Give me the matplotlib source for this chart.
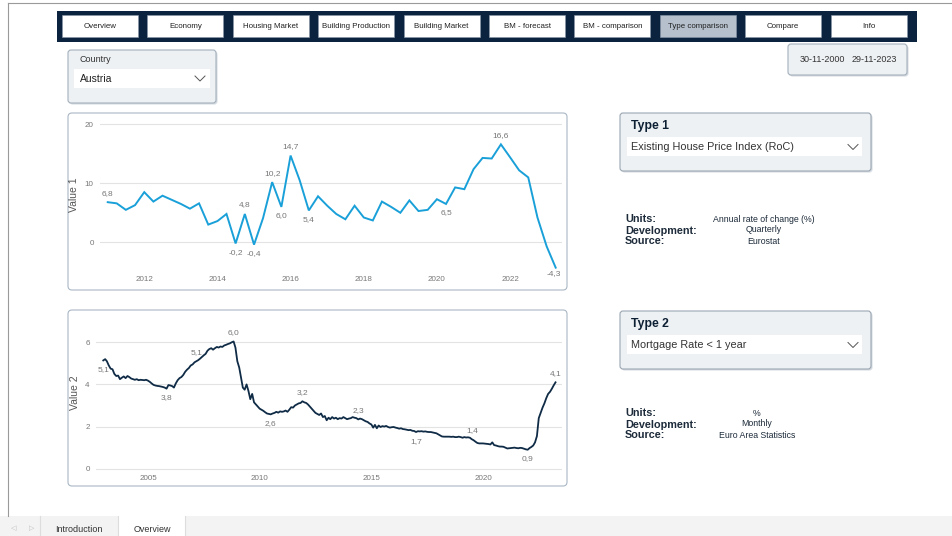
import matplotlib.pyplot as plt
import matplotlib.dates as mdates
from matplotlib.patches import FancyBboxPatch, Rectangle
import pandas as pd

plt.rcParams['font.family'] = ['Liberation Sans', 'DejaVu Sans']

W, H = 952, 536

# ---- data ----
nav_labels = ['Overview', 'Economy', 'Housing Market', 'Building Production', 'Building Market',
              'BM - forecast', 'BM - comparison', 'Type comparison', 'Compare', 'Info']
active_tab = 'Type comparison'
country = 'Austria'
date_from, date_to = '30-11-2000', '29-11-2023'

type1_name = 'Existing House Price Index (RoC)'
type1_meta = ['Annual rate of change (%)', 'Quarterly', 'Eurostat']
type1_values = [6.8, 6.6, 5.5, 6.3, 8.5, 6.9, 7.9, 7.2, 6.5, 5.7, 6.6, 3.0, 3.6, 4.8, -0.2, 4.8,
                -0.4, 4.1, 10.2, 6.0, 14.7, 10.5, 5.4, 7.8, 6.2, 4.8, 3.9, 6.2, 4.2, 3.7, 6.9, 6.0,
                5.0, 7.1, 5.3, 5.5, 7.3, 6.5, 9.3, 9.0, 12.4, 14.3, 14.2, 16.6, 14.4, 12.2, 11.0,
                4.2, -0.7, -4.3]
type1_dates = pd.date_range('2011-01-01', periods=len(type1_values), freq='QS')
type1_labels = {0: 1, 15: 1, 14: -1, 16: -1, 18: 1, 19: -1, 20: 1, 22: -1, 37: -1, 43: 1, 49: -1}

type2_name = 'Mortgage Rate < 1 year'
type2_meta = ['%', 'Monthly', 'Euro Area Statistics']
type2_values = [
    5.14, 5.2, 5.1, 4.9, 4.75, 4.72, 4.5, 4.4, 4.42, 4.25, 4.32, 4.38,   # 2003
    4.3, 4.4, 4.35, 4.28, 4.25, 4.22, 4.25, 4.2, 4.22, 4.21, 4.2, 4.22,   # 2004
    4.18, 4.12, 4.05, 3.98, 3.95, 3.93, 3.92, 3.9, 3.88, 3.85, 3.8, 3.97,  # 2005
    3.95, 3.92, 3.85, 4.05, 4.2, 4.3, 4.35, 4.45, 4.6, 4.7, 4.78, 4.9,    # 2006
    4.95, 5.05, 5.1, 5.15, 5.22, 5.3, 5.38, 5.45, 5.6, 5.68, 5.72, 5.65,  # 2007
    5.72, 5.78, 5.75, 5.8, 5.78, 5.85, 5.88, 5.92, 5.95, 6.0, 6.04, 5.75, # 2008
    5.1, 4.8, 4.35, 3.85, 3.75, 4.0, 3.7, 3.3, 3.55, 3.15, 3.05, 2.95,    # 2009
    2.85, 2.8, 2.75, 2.68, 2.62, 2.6, 2.58, 2.62, 2.65, 2.7, 2.66, 2.72,  # 2010
    2.7, 2.72, 2.76, 2.7, 2.8, 2.92, 2.9, 3.0, 3.05, 3.1, 3.12, 3.2,      # 2011
    3.15, 3.12, 3.05, 2.95, 2.85, 2.75, 2.65, 2.6, 2.55, 2.62, 2.45, 2.5, # 2012
    2.3, 2.42, 2.35, 2.45, 2.38, 2.42, 2.35, 2.4, 2.38, 2.45, 2.4, 2.35,  # 2013
    2.38, 2.4, 2.45, 2.42, 2.4, 2.34, 2.38, 2.35, 2.3, 2.25, 2.22, 2.15,  # 2014
    2.1, 1.95, 2.08, 1.92, 2.05, 1.98, 2.02, 2.0, 2.03, 1.98, 1.95, 1.97, # 2015
    1.98, 1.95, 1.93, 1.9, 1.92, 1.88, 1.87, 1.85, 1.83, 1.84, 1.8, 1.79, # 2016
    1.74, 1.78, 1.77, 1.78, 1.76, 1.77, 1.75, 1.74, 1.74, 1.72, 1.7, 1.68, # 2017
    1.63, 1.58, 1.53, 1.52, 1.52, 1.52, 1.52, 1.51, 1.52, 1.5, 1.5, 1.52, # 2018
    1.5, 1.47, 1.5, 1.48, 1.49, 1.47, 1.4, 1.35, 1.28, 1.22, 1.2, 1.2,    # 2019
    1.2, 1.19, 1.18, 1.17, 1.15, 1.25, 1.12, 1.1, 1.07, 1.05, 1.05, 1.04, # 2020
    1.0, 0.96, 0.97, 0.98, 0.99, 1.0, 0.98, 0.97, 0.99, 0.98, 0.95, 0.92, # 2021
    0.9, 0.98, 1.03, 1.1, 1.25, 1.55, 2.4, 2.65, 2.9, 3.1, 3.35, 3.55,    # 2022
    3.65, 3.8, 3.95, 4.1,                                                  # 2023
]
type2_dates = pd.date_range('2003-01-01', periods=len(type2_values), freq='MS')
type2_labels = {0: -1, 34: -1, 50: 1, 70: 1, 90: -1, 107: 1, 137: 1, 168: -1, 198: 1, 228: -1, 243: 1}

meta_keys = ['Units:', 'Development:', 'Source:']

NAVY = '#0c2340'


def fmt(v):
    return '{:.1f}'.format(v).replace('.', ',')


def px_axes(fig, x0, y0, x1, y1):
    return fig.add_axes([x0 / W, 1 - y1 / H, (x1 - x0) / W, (y1 - y0) / H])


def box(ax, x0, y0, x1, y1, fc, ec, r=3, lw=0.8, shadow=False):
    if shadow:
        ax.add_patch(FancyBboxPatch((x0 + 1.5, y0 + 1.5), x1 - x0, y1 - y0,
                                    boxstyle='round,pad=0,rounding_size=%s' % r,
                                    fc='#d5dbe1', ec='none', zorder=1))
    ax.add_patch(FancyBboxPatch((x0, y0), x1 - x0, y1 - y0,
                                boxstyle='round,pad=0,rounding_size=%s' % r,
                                fc=fc, ec=ec, lw=lw, zorder=2))


def chevron(ax, x, y):
    ax.plot([x - 5, x, x + 5], [y - 2.5, y + 2.5, y - 2.5], color='#555555', lw=0.7, zorder=4)


fig = plt.figure(figsize=(W / 100, H / 100), dpi=100)
fig.patch.set_facecolor('white')
bg = fig.add_axes([0, 0, 1, 1])
bg.set_xlim(0, W)
bg.set_ylim(H, 0)
bg.axis('off')

# page frame and bottom tab bar
bg.plot([8, 8], [3, 516], color='#9a9a9a', lw=0.8)
bg.plot([8, W], [3, 3], color='#9a9a9a', lw=0.8)
bg.add_patch(Rectangle((0, 516), W, 20, fc='#f3f3f3', ec='none'))
bg.add_patch(Rectangle((118, 516), 67, 20, fc='white', ec='none'))
for xv in [40, 118, 185]:
    bg.plot([xv, xv], [516, 536], color='#dddddd', lw=0.8)
bg.text(14, 528, '\u25c1', fontsize=5, color='#bbbbbb', ha='center', va='center', family='DejaVu Sans')
bg.text(32, 528, '\u25b7', fontsize=5, color='#bbbbbb', ha='center', va='center', family='DejaVu Sans')
bg.text(79, 529, 'Introduction', fontsize=6.5, color='#333333', ha='center', va='center')
bg.text(152, 529, 'Overview', fontsize=6.5, color='#333333', ha='center', va='center')

# navigation bar
bg.add_patch(Rectangle((57, 11), 860, 31, fc=NAVY, ec='none'))
for i, lab in enumerate(nav_labels):
    x0 = 62 + i * 85.4
    fc = '#b5c0cc' if lab == active_tab else 'white'
    bg.add_patch(Rectangle((x0, 15), 76, 22, fc=fc, ec='#8a98a8', lw=0.4, zorder=3))
    bg.text(x0 + 38, 26.5, lab, fontsize=5.7, color='#222222', ha='center', va='center', zorder=4)

# country slicer
box(bg, 68, 50, 216, 103, '#eef1f4', '#a3afbb', shadow=True)
bg.text(79, 60, 'Country', fontsize=6.5, color='#333333', va='center')
bg.add_patch(Rectangle((74, 69), 136, 19, fc='white', ec='none', zorder=3))
bg.text(80, 78.5, country, fontsize=7.5, color='#222222', va='center', zorder=4)
chevron(bg, 200, 78.5)

# date range
box(bg, 788, 44, 907, 75, '#eef1f4', '#a3afbb', shadow=True)
bg.text(822, 60, date_from, fontsize=6.5, color='#333333', ha='center', va='center', zorder=4)
bg.text(874, 60, date_to, fontsize=6.5, color='#333333', ha='center', va='center', zorder=4)

# chart frames
box(bg, 68, 113, 567, 290, 'white', '#a9b7c5', r=4)
box(bg, 68, 310, 567, 486, 'white', '#a9b7c5', r=4)

# type selectors and meta blocks
for y0, name, title, meta in [(113, type1_name, 'Type 1', type1_meta),
                              (311, type2_name, 'Type 2', type2_meta)]:
    box(bg, 620, y0, 871, y0 + 58, '#eef1f4', '#9aa6b2', shadow=True)
    bg.text(631, y0 + 13.5, title, fontsize=8.8, fontweight='bold', color='#0d1f33', va='center', zorder=4)
    bg.add_patch(Rectangle((627, y0 + 24), 235, 19, fc='white', ec='none', zorder=3))
    bg.text(631, y0 + 34, name, fontsize=7.8, color='#333333', va='center', zorder=4)
    chevron(bg, 853, y0 + 34)
    my = y0 + 106.5 if title == 'Type 1' else y0 + 102.5
    mx = 764 if title == 'Type 1' else 757
    for k, (key, val) in enumerate(zip(meta_keys, meta)):
        bg.text(625, my + k * 11, key, fontsize=7.8, fontweight='bold', color='#1d2b3a', va='center')
        bg.text(mx, my - 0.5 + k * 11, val, fontsize=6.3, color='#1d2b3a', ha='center', va='center')


def style_axes(ax, ylabel, lx, ly):
    for s in ax.spines.values():
        s.set_visible(False)
    ax.set_facecolor('none')
    ax.grid(axis='y', color='#e3e3e3', lw=0.8)
    ax.grid(axis='x', visible=False)
    ax.set_axisbelow(True)
    ax.tick_params(length=0, labelsize=5.8, colors='#777777')
    ax.tick_params(axis='x', pad=3.2)
    ax.tick_params(axis='y', pad=4.5)
    ax.set_ylabel(ylabel, fontsize=7.5, color='#555555')
    ax.yaxis.set_label_coords(lx, ly)


# chart 1
ax1 = px_axes(fig, 100, 118.4, 562, 271.2)
ax1.plot(type1_dates, type1_values, color='#1aa0d8', lw=1.4, solid_joinstyle='miter')
ax1.set_xlim(pd.Timestamp('2010-10-16'), pd.Timestamp('2023-06-03'))
ax1.set_ylim(-4.9, 21)
ax1.set_yticks([0, 10, 20])
ax1.xaxis.set_major_locator(mdates.YearLocator(2))
ax1.xaxis.set_major_formatter(mdates.DateFormatter('%Y'))
style_axes(ax1, 'Value 1', -0.045, 0.5)
for i, d in type1_labels.items():
    last = i == len(type1_values) - 1
    ax1.annotate(fmt(type1_values[i]), (type1_dates[i], type1_values[i]),
                 xytext=(-1 if last else 0, -4 if last else 6.5 * d), textcoords='offset points',
                 ha='center', va='center', fontsize=6, color='#777777')

# chart 2
ax2 = px_axes(fig, 96, 326.5, 562, 470.8)
ax2.plot(type2_dates, type2_values, color='#0f2b46', lw=1.3)
ax2.set_xlim(pd.Timestamp('2002-09-04'), pd.Timestamp('2023-07-16'))
ax2.set_ylim(-0.1, 6.75)
ax2.set_yticks([0, 2, 4, 6])
ax2.xaxis.set_major_locator(mdates.YearLocator(5))
ax2.xaxis.set_major_formatter(mdates.DateFormatter('%Y'))
style_axes(ax2, 'Value 2', -0.034, 0.54)
for i, d in type2_labels.items():
    ax2.annotate(fmt(type2_values[i]), (type2_dates[i], type2_values[i]),
                 xytext=(0, 6.5 * d), textcoords='offset points',
                 ha='center', va='center', fontsize=6, color='#777777')

fig.savefig('out.png', dpi=100)
